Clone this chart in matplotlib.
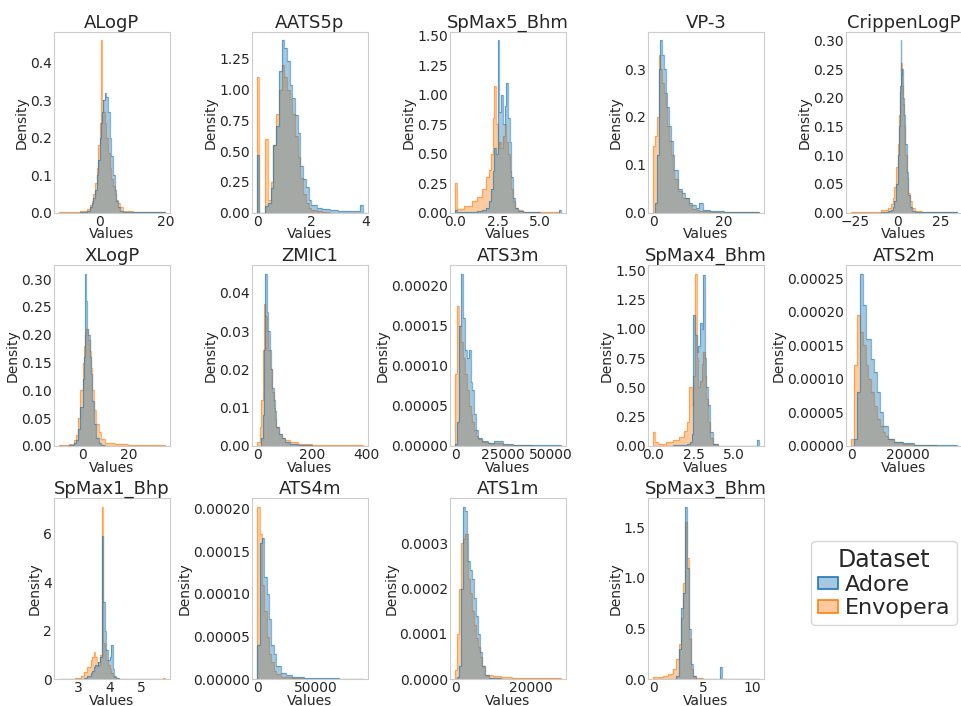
import matplotlib
matplotlib.use("Agg")
import matplotlib.pyplot as plt
from matplotlib.patches import Patch
from matplotlib.ticker import MaxNLocator
from matplotlib.colors import to_rgba

titles = ["ALogP", "AATS5p", "SpMax5_Bhm", "VP-3", "CrippenLogP",
          "XLogP", "ZMIC1", "ATS3m", "SpMax4_Bhm", "ATS2m",
          "SpMax1_Bhp", "ATS4m", "ATS1m", "SpMax3_Bhm"]
datasets = ["Adore", "Envopera"]

# x tick labels shown in each panel
xticks_list = [[0, 20], [0, 2, 4], [0.0, 2.5, 5.0], [0, 20], [-25, 0, 25],
               [0, 20], [0, 200, 400], [0, 25000, 50000], [0.0, 2.5, 5.0], [0, 20000],
               [3, 4, 5], [0, 50000], [0, 20000], [0, 5, 10]]

# ---- histogram bin edges and densities ----
alogp_edges = [-12.3, -6, -4, -3, -2.5, -2, -1.5, -1, -0.5, 0, 0.5, 0.75, 1.0, 1.5, 2, 2.5, 3, 3.5, 4, 4.5, 5, 5.5, 6, 7, 10, 19.6]
alogp_adore = [0, 0.001, 0.005, 0.015, 0.025, 0.04, 0.06, 0.1, 0.14, 0.2, 0.24, 0.27, 0.3, 0.32, 0.31, 0.27, 0.2, 0.15, 0.1, 0.06, 0.03, 0.015, 0.005, 0.001, 0.0003]
alogp_envopera = [0.002, 0.004, 0.01, 0.02, 0.03, 0.05, 0.08, 0.12, 0.18, 0.24, 0.46, 0.3, 0.27, 0.24, 0.2, 0.16, 0.12, 0.09, 0.07, 0.05, 0.035, 0.025, 0.015, 0.005, 0.0008]

aats5p_edges = [0, 0.08, 0.3, 0.4, 0.5, 0.6, 0.7, 0.8, 0.9, 1.0, 1.1, 1.2, 1.3, 1.4, 1.5, 1.6, 1.7, 1.8, 1.9, 2.0, 2.2, 2.4, 2.7, 3.0, 3.4, 3.8, 3.9]
aats5p_adore = [0.47, 0.0, 0.05, 0.08, 0.2, 0.55, 0.7, 1.15, 1.4, 1.34, 1.23, 1.04, 0.93, 0.79, 0.65, 0.38, 0.27, 0.21, 0.1, 0.06, 0.04, 0.03, 0.02, 0.015, 0.01, 0.06]
aats5p_envopera = [1.1, 0.0, 0.6, 0.1, 0.25, 0.55, 0.8, 1.0, 1.2, 1.1, 1.0, 0.92, 0.8, 0.62, 0.45, 0.28, 0.15, 0.08, 0.04, 0.02, 0.01, 0.005, 0.0, 0.0, 0.0, 0.0]

spmax5_edges = [0, 0.1, 0.5, 1.0, 1.3, 1.6, 1.8, 2.0, 2.1, 2.2, 2.3, 2.4, 2.5, 2.6, 2.7, 2.8, 2.9, 3.0, 3.1, 3.2, 3.3, 3.4, 3.5, 3.7, 4.0, 5.0, 6.1, 6.2]
spmax5_adore = [0.02, 0.005, 0.005, 0.008, 0.012, 0.02, 0.04, 0.1, 0.2, 0.35, 0.55, 0.5, 1.46, 0.85, 1.0, 0.75, 0.9, 1.1, 0.8, 0.6, 0.3, 0.12, 0.04, 0.01, 0.002, 0.0, 0.02]
spmax5_envopera = [0.25, 0.03, 0.06, 0.1, 0.13, 0.2, 0.3, 0.36, 0.5, 0.8, 1.07, 0.75, 0.55, 0.6, 0.55, 0.65, 0.75, 0.6, 0.5, 0.35, 0.2, 0.1, 0.04, 0.02, 0.005, 0.001, 0.0]

vp3_edges = [0, 0.5, 1, 1.5, 2, 2.5, 3, 3.5, 4, 4.5, 5, 5.5, 6, 7, 8, 9, 10, 11, 12, 13, 14, 16, 20, 25, 29.8]
vp3_adore = [0.0, 0.02, 0.12, 0.3, 0.36, 0.33, 0.3, 0.25, 0.22, 0.18, 0.15, 0.12, 0.09, 0.05, 0.04, 0.03, 0.02, 0.015, 0.01, 0.02, 0.005, 0.003, 0.002, 0.001]
vp3_envopera = [0.14, 0.16, 0.2, 0.33, 0.3, 0.27, 0.25, 0.22, 0.18, 0.15, 0.12, 0.09, 0.07, 0.045, 0.03, 0.03, 0.015, 0.008, 0.005, 0.004, 0.003, 0.002, 0.001, 0.0005]

crippen_edges = [-27, -10, -6, -4, -3, -2, -1, 0, 0.5, 1, 1.5, 2, 2.5, 3, 3.5, 4, 5, 6, 7, 8, 10, 14, 34]
crippen_adore = [0, 0.001, 0.002, 0.005, 0.01, 0.02, 0.05, 0.1, 0.15, 0.22, 0.3, 0.24, 0.25, 0.2, 0.17, 0.12, 0.07, 0.03, 0.01, 0.003, 0.001, 0.0002]
crippen_envopera = [0.0005, 0.004, 0.008, 0.015, 0.025, 0.045, 0.08, 0.12, 0.17, 0.21, 0.25, 0.26, 0.22, 0.19, 0.15, 0.1, 0.06, 0.035, 0.02, 0.008, 0.003, 0.0005]

xlogp_edges = [-10.3, -6, -4, -3, -2, -1, 0, 0.5, 1, 1.5, 2, 2.5, 3, 3.5, 4, 5, 6, 7, 8, 10, 14, 20, 25, 35.9]
xlogp_adore = [0, 0.002, 0.005, 0.01, 0.03, 0.07, 0.12, 0.16, 0.31, 0.26, 0.21, 0.2, 0.16, 0.13, 0.08, 0.04, 0.015, 0.005, 0.002, 0.0005, 0, 0, 0]
xlogp_envopera = [0.001, 0.004, 0.01, 0.02, 0.05, 0.1, 0.15, 0.18, 0.2, 0.21, 0.21, 0.19, 0.17, 0.14, 0.1, 0.065, 0.04, 0.025, 0.012, 0.006, 0.004, 0.002, 0.001]

zmic1_edges = [0, 10, 15, 20, 25, 30, 35, 40, 45, 50, 55, 60, 65, 70, 80, 90, 100, 120, 150, 200, 300, 385]
zmic1_adore = [0, 0, 0.002, 0.008, 0.025, 0.045, 0.035, 0.03, 0.025, 0.02, 0.015, 0.012, 0.009, 0.005, 0.003, 0.002, 0.001, 0.0005, 0.0002, 0.0001, 0]
zmic1_envopera = [0.001, 0.005, 0.012, 0.025, 0.037, 0.034, 0.03, 0.025, 0.02, 0.02, 0.014, 0.01, 0.007, 0.005, 0.003, 0.002, 0.0015, 0.001, 0.0006, 0.0003, 0.0002]

ats3m_edges = [0, 1000, 2000, 3000, 4000, 5000, 6000, 7000, 8000, 9000, 10000, 11000, 12000, 14000, 17000, 20000, 25000, 30000, 40000, 55000]
ats3m_adore = [0.000002, 0.00003, 0.00015, 0.000215, 0.00016, 0.00012, 0.00011, 0.00012, 0.00008, 0.00007, 0.00004, 0.00002, 0.00001, 0.000006, 0.000004, 0.000006, 0.000002, 0.000001, 0.000001]
ats3m_envopera = [0.00009, 0.000175, 0.00015, 0.00013, 0.00011, 0.00009, 0.00007, 0.00005, 0.00004, 0.00003, 0.00002, 0.000012, 0.000008, 0.000005, 0.000004, 0.000003, 0.000001, 0.0000005, 0.0]

spmax4_edges = [0, 0.1, 0.3, 0.8, 1.2, 1.6, 1.9, 2.1, 2.2, 2.3, 2.4, 2.5, 2.6, 2.7, 2.8, 2.9, 3.0, 3.1, 3.2, 3.3, 3.4, 3.5, 3.7, 4.0, 6.45, 6.55]
spmax4_adore = [0, 0, 0.002, 0.003, 0.004, 0.006, 0.01, 0.015, 0.02, 0.03, 0.1, 1.12, 0.95, 0.8, 0.85, 1.05, 1.0, 1.46, 0.75, 0.5, 0.35, 0.12, 0.02, 0.001, 0.05]
spmax4_envopera = [0.12, 0.03, 0.02, 0.035, 0.05, 0.08, 0.13, 0.2, 0.5, 0.5, 0.35, 0.6, 1.47, 0.75, 0.5, 0.55, 0.7, 0.8, 0.6, 0.4, 0.2, 0.07, 0.02, 0.001, 0]

ats2m_edges = [0, 1000, 2000, 3000, 4000, 5000, 6000, 7000, 8000, 9000, 10000, 11000, 12000, 13000, 15000, 18000, 22000, 30000, 37000]
ats2m_adore = [0, 0.00001, 0.00008, 0.000257, 0.00021, 0.00016, 0.00016, 0.00013, 0.00011, 0.00008, 0.00005, 0.00003, 0.00003, 0.00001, 0.000006, 0.000004, 0.000002, 0.000001]
ats2m_envopera = [0.00001, 0.00012, 0.000195, 0.00017, 0.00015, 0.00012, 0.0001, 0.00008, 0.00006, 0.00004, 0.00003, 0.00002, 0.000015, 0.00001, 0.000006, 0.000003, 0.000001, 0.0000005]

spmax1_edges = [2.4, 2.9, 3.1, 3.2, 3.3, 3.4, 3.45, 3.5, 3.55, 3.6, 3.65, 3.7, 3.75, 3.8, 3.85, 3.9, 3.95, 4.0, 4.05, 4.1, 4.15, 4.2, 4.3, 4.5, 5.0, 5.7, 5.75]
spmax1_adore = [0, 0.005, 0.02, 0.05, 0.12, 0.25, 0.35, 0.5, 0.6, 0.55, 0.7, 0.9, 5.9, 3.2, 2.0, 1.2, 0.8, 0.9, 1.4, 0.4, 0.15, 0.05, 0.01, 0.002, 0, 0]
spmax1_envopera = [0.01, 0.05, 0.15, 0.3, 0.5, 0.8, 0.9, 1.1, 0.9, 0.7, 0.6, 1.0, 7.1, 1.5, 1.2, 0.8, 0.6, 0.4, 0.25, 0.15, 0.08, 0.04, 0.02, 0.01, 0.005, 0.05]

ats4m_edges = [0, 2000, 4000, 6000, 8000, 10000, 12000, 14000, 16000, 20000, 25000, 30000, 40000, 55000, 70000, 90000]
ats4m_adore = [0.00004, 0.00016, 0.000165, 0.00012, 0.0001, 0.00007, 0.00004, 0.00003, 0.000015, 0.000007, 0.000005, 0.000003, 0.0000015, 0.000001, 0.0000005]
ats4m_envopera = [0.000202, 0.00017, 0.00011, 0.00008, 0.00005, 0.00003, 0.00002, 0.00001, 0.000006, 0.000003, 0.000002, 0.000001, 0.0000005, 0, 0]

ats1m_edges = [0, 500, 1000, 1500, 2000, 2500, 3000, 3500, 4000, 4500, 5000, 5500, 6000, 6500, 7000, 8000, 9000, 10000, 12000, 15000, 20000, 27900]
ats1m_adore = [0, 0.000005, 0.00003, 0.0002, 0.00038, 0.00037, 0.00032, 0.00026, 0.00024, 0.00022, 0.00018, 0.00014, 0.0001, 0.00006, 0.00003, 0.00001, 0.000003, 0.000002, 0.000001, 0, 0]
ats1m_envopera = [0.00002, 0.0001, 0.0002, 0.0003, 0.00031, 0.00032, 0.00026, 0.00022, 0.00019, 0.00015, 0.00012, 0.00009, 0.00007, 0.00005, 0.00003, 0.00001, 0.00001, 0.000008, 0.000005, 0.000003, 0.000002]

spmax3_edges = [0, 0.3, 1.0, 1.5, 2.0, 2.3, 2.6, 2.8, 3.0, 3.2, 3.4, 3.6, 3.8, 4.0, 4.3, 5.0, 6.7, 6.9, 10.6]
spmax3_adore = [0, 0, 0, 0.002, 0.005, 0.03, 0.3, 0.7, 0.85, 1.7, 1.1, 0.5, 0.15, 0.03, 0.005, 0, 0.12, 0.003]
spmax3_envopera = [0.02, 0.02, 0.03, 0.05, 0.1, 0.2, 0.35, 0.6, 0.95, 1.55, 1.2, 0.4, 0.1, 0.03, 0.01, 0.002, 0, 0.001]

panels = [
    (alogp_edges, alogp_adore, alogp_envopera),
    (aats5p_edges, aats5p_adore, aats5p_envopera),
    (spmax5_edges, spmax5_adore, spmax5_envopera),
    (vp3_edges, vp3_adore, vp3_envopera),
    (crippen_edges, crippen_adore, crippen_envopera),
    (xlogp_edges, xlogp_adore, xlogp_envopera),
    (zmic1_edges, zmic1_adore, zmic1_envopera),
    (ats3m_edges, ats3m_adore, ats3m_envopera),
    (spmax4_edges, spmax4_adore, spmax4_envopera),
    (ats2m_edges, ats2m_adore, ats2m_envopera),
    (spmax1_edges, spmax1_adore, spmax1_envopera),
    (ats4m_edges, ats4m_adore, ats4m_envopera),
    (ats1m_edges, ats1m_adore, ats1m_envopera),
    (spmax3_edges, spmax3_adore, spmax3_envopera),
]

colors = {"Adore": "#1f77b4", "Envopera": "#ff7f0e"}
spine_col = "#cccccc"
text_col = "#262626"
plt.rcParams["text.color"] = text_col
plt.rcParams["axes.labelcolor"] = text_col
plt.rcParams["xtick.color"] = text_col
plt.rcParams["ytick.color"] = text_col

fig, axes = plt.subplots(3, 5, figsize=(9.62, 7.06), dpi=100)
fig.subplots_adjust(left=0.056, right=1.0, bottom=0.038, top=0.955,
                    wspace=0.707, hspace=0.29)

alpha = 0.4
for i, ax in enumerate(axes.flat):
    if i >= len(panels):
        ax.axis("off")
        continue
    edges, a_vals, e_vals = panels[i]
    # Envopera drawn first, Adore layered on top
    for vals, name in [(e_vals, "Envopera"), (a_vals, "Adore")]:
        col = colors[name]
        ax.stairs(vals, edges, fill=True, facecolor=col, alpha=alpha, linewidth=0)
        ax.stairs(vals, edges, fill=False, color=col, alpha=0.55, linewidth=0.9)
    ax.set_xticks(xticks_list[i])
    ax.yaxis.set_major_locator(MaxNLocator(nbins=7, steps=[1, 2, 2.5, 5, 10]))
    ax.set_title(titles[i], fontsize=13, pad=3)
    ax.set_xlabel("Values", fontsize=10, labelpad=-1)
    ax.set_ylabel("Density", fontsize=10, labelpad=1)
    ax.tick_params(labelsize=10, length=0, pad=1.5)
    for s in ax.spines.values():
        s.set_color(spine_col)

handles = [Patch(facecolor=to_rgba(colors[n], alpha), edgecolor=colors[n], linewidth=1.2)
           for n in datasets]
leg = fig.legend(handles, datasets, title="Dataset", loc="center",
                 bbox_to_anchor=(884 / 962, 1 - 583 / 706),
                 fontsize=16, title_fontsize=17, handlelength=0.9, handleheight=0.5,
                 handletextpad=0.3, borderpad=0.3, labelspacing=0.15, frameon=True)
leg.get_frame().set_edgecolor("#cccccc")

fig.savefig("out.png", dpi=100)
